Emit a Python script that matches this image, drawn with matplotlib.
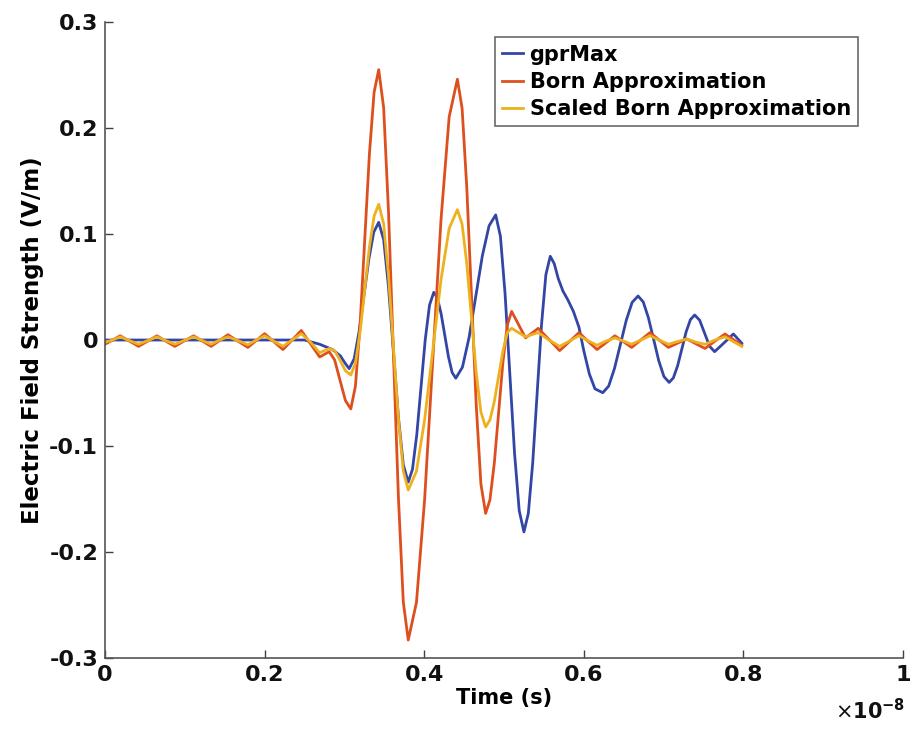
import matplotlib
matplotlib.use("Agg")
import matplotlib.pyplot as plt
import numpy as np

plt.rcParams['font.family'] = ['DejaVu Sans']
plt.rcParams['axes.unicode_minus'] = False

# time in units of 1e-8 s
t_gpr = [0.0, 0.10, 0.20, 0.25, 0.269, 0.285, 0.295, 0.301, 0.306,
         0.3122, 0.3183, 0.3245, 0.3307, 0.3368, 0.343,
         0.3492, 0.3553, 0.3615, 0.3677, 0.3738, 0.380,
         0.3853, 0.3907, 0.396, 0.4013, 0.4067, 0.412,
         0.4166, 0.4212, 0.4258, 0.4304, 0.435, 0.4396,
         0.4479, 0.4563, 0.4646, 0.4729, 0.4813, 0.4896,
         0.4955, 0.5014, 0.5073, 0.5132, 0.5191, 0.525,
         0.5305, 0.536, 0.5415, 0.547, 0.5525, 0.558,
         0.563, 0.568, 0.574, 0.580, 0.587, 0.594, 0.600, 0.607, 0.614, 0.6238,
         0.6312, 0.6385, 0.6459, 0.6533, 0.6606, 0.668,
         0.6745, 0.681, 0.6875, 0.694, 0.7005, 0.707,
         0.7123, 0.7177, 0.723, 0.7283, 0.7337, 0.739,
         0.7453, 0.7515, 0.7578, 0.764, 0.7758, 0.7875, 0.798]
v_gpr = [0.0, 0.0, 0.0, 0.0, -0.004, -0.009, -0.015, -0.022, -0.027,
         -0.0178, 0.0075, 0.042, 0.0765, 0.1018, 0.111,
         0.0946, 0.0498, -0.0115, -0.0728, -0.1176, -0.134,
         -0.122, -0.0893, -0.0445, 0.0003, 0.033, 0.045,
         0.0396, 0.0248, 0.0045, -0.0158, -0.0306, -0.036,
         -0.0257, 0.0025, 0.041, 0.0795, 0.1077, 0.118,
         0.098, 0.0433, -0.0315, -0.1063, -0.161, -0.181,
         -0.1636, -0.116, -0.051, 0.014, 0.0616, 0.079,
         0.072, 0.058, 0.046, 0.038, 0.027, 0.012, -0.010, -0.032, -0.046, -0.0497,
         -0.0435, -0.0268, -0.0041, 0.0187, 0.0355, 0.0415,
         0.036, 0.021, 0.0008, -0.0196, -0.0345, -0.040,
         -0.0357, -0.0241, -0.0082, 0.0077, 0.0193, 0.0236,
         0.0186, 0.0063, -0.006, -0.011, -0.0027, 0.0057, -0.003]

t_born = [0.0, 0.0095, 0.019, 0.0305, 0.042, 0.0535, 0.065, 0.076, 0.0875, 0.099,
          0.111, 0.122, 0.133, 0.1435, 0.154, 0.1665, 0.179, 0.1895, 0.200, 0.2115,
          0.223, 0.2345, 0.246, 0.2575, 0.269, 0.275, 0.281, 0.2878, 0.2945, 0.3013,
          0.308, 0.3138, 0.3197, 0.3255, 0.3313, 0.3372, 0.343,
          0.3492, 0.3553, 0.3615, 0.3677, 0.3738, 0.380,
          0.3903, 0.4005, 0.4108, 0.4211, 0.4313, 0.4416,
          0.4475, 0.4534, 0.4593, 0.4652, 0.4711, 0.477,
          0.4824, 0.4879, 0.4933, 0.4987, 0.5042, 0.5096,
          0.5183, 0.527, 0.535, 0.5429, 0.5564, 0.5698, 0.582, 0.594, 0.605, 0.6166,
          0.628, 0.639, 0.6495, 0.660, 0.6715, 0.683, 0.6945, 0.706, 0.7175, 0.729,
          0.7405, 0.752, 0.7645, 0.777, 0.798]
v_born = [-0.004, 0.0, 0.004, -0.001, -0.006, -0.001, 0.004, -0.001, -0.006, -0.001,
          0.004, -0.001, -0.006, -0.0005, 0.005, -0.001, -0.007, -0.0005, 0.006, -0.0015,
          -0.009, 0.0, 0.009, -0.0035, -0.016, -0.0135, -0.011, -0.0189, -0.038, -0.0571,
          -0.065, -0.0436, 0.015, 0.095, 0.175, 0.2336, 0.255,
          0.219, 0.1205, -0.014, -0.1485, -0.247, -0.283,
          -0.2475, -0.1508, -0.0185, 0.1138, 0.2105, 0.246,
          0.2186, 0.1436, 0.0413, -0.0611, -0.136, -0.1635,
          -0.1508, -0.1159, -0.0683, -0.0206, 0.0142, 0.027,
          0.0145, 0.002, 0.0065, 0.011, 0.0005, -0.010, -0.0015, 0.007, -0.001, -0.009,
          -0.0025, 0.004, -0.0015, -0.007, 0.0, 0.007, 0.0, -0.007, -0.003, 0.001,
          -0.0035, -0.008, -0.001, 0.0057, -0.005]

t_scaled = t_born
v_scaled = [-0.002, 0.0, 0.003, -0.0005, -0.004, -0.0005, 0.003, -0.0005, -0.004, -0.0005,
            0.003, -0.0005, -0.004, 0.0, 0.003, -0.0005, -0.0045, 0.0, 0.004, -0.001,
            -0.006, 0.0, 0.006, -0.002, -0.012, -0.010, -0.008, -0.010, -0.019, -0.029,
            -0.033, -0.0218, 0.0075, 0.0475, 0.0875, 0.1168, 0.128,
            0.1095, 0.0603, -0.007, -0.0743, -0.1235, -0.1415,
            -0.1238, -0.0754, -0.0093, 0.0569, 0.1053, 0.123,
            0.1093, 0.0718, 0.0207, -0.0306, -0.068, -0.082,
            -0.0754, -0.058, -0.0341, -0.0103, 0.0071, 0.011,
            0.007, 0.003, 0.005, 0.007, 0.0, -0.006, -0.001, 0.004, -0.0005, -0.005,
            -0.001, 0.002, -0.001, -0.004, 0.0, 0.004, 0.0, -0.004, -0.0015, 0.001,
            -0.002, -0.004, 0.0, 0.003, -0.006]

series_names = ["gprMax", "Born Approximation", "Scaled Born Approximation"]
colors = ["#3346A6", "#DE4F1E", "#EDB120"]

x_ticks = [0, 0.2, 0.4, 0.6, 0.8, 1.0]
x_ticklabels = ["0", "0.2", "0.4", "0.6", "0.8", "1"]
y_ticks = [-0.3, -0.2, -0.1, 0, 0.1, 0.2, 0.3]
y_ticklabels = ["-0.3", "-0.2", "-0.1", "0", "0.1", "0.2", "0.3"]

fig = plt.figure(figsize=(9.15, 7.32), dpi=100)
ax = fig.add_axes([0.1148, 0.101, 0.872, 0.869])

ax.plot(t_gpr, v_gpr, color=colors[0], lw=2.0, label=series_names[0])
ax.plot(t_born, v_born, color=colors[1], lw=2.0, label=series_names[1])
ax.plot(t_scaled, v_scaled, color=colors[2], lw=2.0, label=series_names[2])

ax.set_xlim(0, 1)
ax.set_ylim(-0.3, 0.3)
ax.set_xticks(x_ticks)
ax.set_xticklabels(x_ticklabels)
ax.set_yticks(y_ticks)
ax.set_yticklabels(y_ticklabels)
for lab in ax.get_xticklabels() + ax.get_yticklabels():
    lab.set_fontweight('bold')
    lab.set_fontsize(16)
ax.tick_params(direction='in', length=6, width=1, colors='#404040', labelcolor='#111111', pad=5)
ax.spines['top'].set_visible(False)
ax.spines['right'].set_visible(False)
for s in ['left', 'bottom']:
    ax.spines[s].set_color('#555555')
    ax.spines[s].set_linewidth(1.2)

ax.set_xlabel("Time (s)", fontsize=15, fontweight='bold', labelpad=2)
ax.set_ylabel("Electric Field Strength (V/m)", fontsize=16.5, fontweight='bold', labelpad=4)
fig.text(0.951, 0.012, r"$\times\mathbf{10^{-8}}$", fontsize=15, ha='center', va='bottom', color='#111111')

leg = ax.legend(loc='upper left', bbox_to_anchor=(0.489, 0.976),
                prop={'weight': 'bold', 'size': 15}, frameon=True, fancybox=False,
                edgecolor='#444444', handlelength=1.0, handletextpad=0.3,
                borderpad=0.35, labelspacing=0.35, borderaxespad=0)
leg.get_frame().set_linewidth(1.2)

fig.savefig("out.png", dpi=100)
